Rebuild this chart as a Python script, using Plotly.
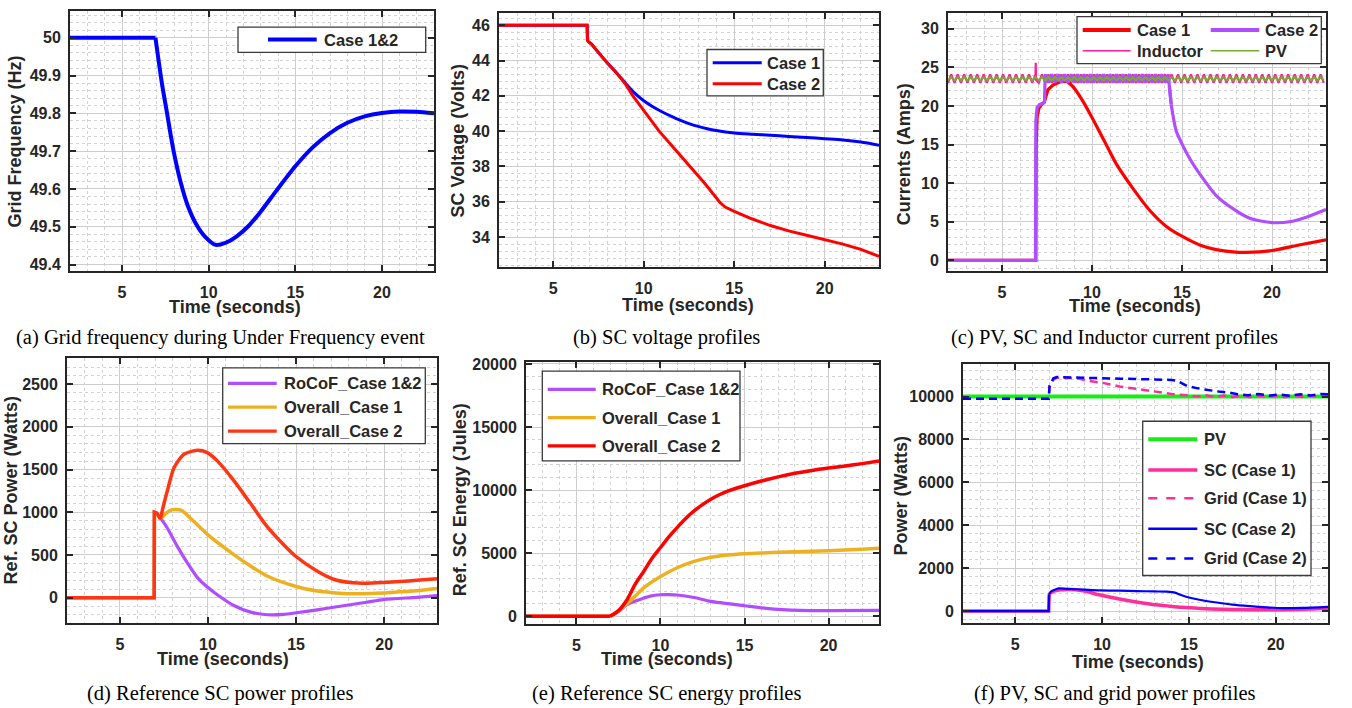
import plotly.graph_objects as go

W, H = 1352, 708

# ---------------- data ----------------
x_ticks = [5, 10, 15, 20]

# (a) grid frequency
freq_t = [2.0, 6.93, 7.3, 7.6, 7.8, 8.0, 8.4, 8.8, 9.3, 9.8, 10.4, 11.0, 11.6, 12.3, 13.0,
          13.9, 15.0, 16.0, 17.0, 18.0, 19.0, 20.0, 21.0, 22.0, 23.0]
freq_hz = [50.0, 50.0, 49.88, 49.80, 49.745, 49.695, 49.615, 49.555, 49.505, 49.473, 49.452,
           49.458, 49.474, 49.502, 49.54, 49.595, 49.66, 49.71, 49.748, 49.775, 49.792,
           49.801, 49.805, 49.804, 49.80]

# (b) SC voltage
volt_t1 = [2.0, 6.87, 6.89, 6.95, 7.1, 7.5, 8.0, 8.5, 9.0, 9.5, 10.0, 10.5, 11.0, 11.5, 12.0,
           12.5, 13.0, 13.5, 14.0, 15.0, 16.0, 17.0, 18.0, 19.0, 20.0, 21.0, 22.0, 23.0]
volt_case1 = [46.0, 46.0, 45.15, 45.05, 44.95, 44.45, 43.85, 43.3, 42.7, 42.15, 41.72, 41.38,
              41.1, 40.85, 40.62, 40.43, 40.27, 40.14, 40.04, 39.9, 39.83, 39.77, 39.7,
              39.64, 39.57, 39.5, 39.38, 39.2]
volt_t2 = [2.0, 6.87, 6.89, 6.95, 7.1, 7.5, 8.0, 8.5, 9.0, 9.4, 10.0, 10.85, 11.7, 12.56,
           13.4, 14.2, 14.5, 15.0, 15.5, 16.0, 17.0, 18.0, 19.0, 20.0, 21.0, 22.0, 23.0]
volt_case2 = [46.0, 46.0, 45.15, 45.05, 44.95, 44.45, 43.85, 43.3, 42.65, 42.0, 41.2, 40.0,
              39.0, 38.0, 37.0, 35.97, 35.7, 35.45, 35.22, 35.02, 34.65, 34.35, 34.1,
              33.87, 33.6, 33.3, 32.9]

# (c) currents
ripple_t = [2.00, 2.18, 2.36, 2.54, 2.72, 2.90, 3.08, 3.26, 3.44, 3.62, 3.80, 3.98, 4.16,
            4.34, 4.52, 4.70, 4.88, 5.06, 5.24, 5.42, 5.60, 5.78, 5.96, 6.14, 6.32, 6.50,
            6.68, 6.86, 7.04, 7.22, 7.40, 7.58, 7.76, 7.94, 8.12, 8.30, 8.48, 8.66, 8.84,
            9.02, 9.20, 9.38, 9.56, 9.74, 9.92, 10.10, 10.28, 10.46, 10.64, 10.82, 11.00,
            11.18, 11.36, 11.54, 11.72, 11.90, 12.08, 12.26, 12.44, 12.62, 12.80, 12.98,
            13.16, 13.34, 13.52, 13.70, 13.88, 14.06, 14.24, 14.42, 14.60, 14.78, 14.96,
            15.14, 15.32, 15.50, 15.68, 15.86, 16.04, 16.22, 16.40, 16.58, 16.76, 16.94,
            17.12, 17.30, 17.48, 17.66, 17.84, 18.02, 18.20, 18.38, 18.56, 18.74, 18.92,
            19.10, 19.28, 19.46, 19.64, 19.82, 20.00, 20.18, 20.36, 20.54, 20.72, 20.90,
            21.08, 21.26, 21.44, 21.62, 21.80, 21.98, 22.16, 22.34, 22.52, 22.70, 22.88,
            23.06]
inductor_ripple = [23.0, 24.1, 23.0, 24.1, 23.0, 24.1, 23.0, 24.1, 23.0, 24.1, 23.0, 24.1,
                   23.0, 24.1, 23.0, 24.1, 23.0, 24.1, 23.0, 24.1, 23.0, 24.1, 23.0, 24.1,
                   23.0, 24.1, 23.0, 24.1, 23.0, 24.1, 23.0, 24.1, 23.0, 24.1, 23.0, 24.1,
                   23.0, 24.1, 23.0, 24.1, 23.0, 24.1, 23.0, 24.1, 23.0, 24.1, 23.0, 24.1,
                   23.0, 24.1, 23.0, 24.1, 23.0, 24.1, 23.0, 24.1, 23.0, 24.1, 23.0, 24.1,
                   23.0, 24.1, 23.0, 24.1, 23.0, 24.1, 23.0, 24.1, 23.0, 24.1, 23.0, 24.1,
                   23.0, 24.1, 23.0, 24.1, 23.0, 24.1, 23.0, 24.1, 23.0, 24.1, 23.0, 24.1,
                   23.0, 24.1, 23.0, 24.1, 23.0, 24.1, 23.0, 24.1, 23.0, 24.1, 23.0, 24.1,
                   23.0, 24.1, 23.0, 24.1, 23.0, 24.1, 23.0, 24.1, 23.0, 24.1, 23.0, 24.1,
                   23.0, 24.1, 23.0, 24.1, 23.0, 24.1, 23.0, 24.1, 23.0]
inductor_spike_t = [6.875, 6.89]
inductor_spike_i = [25.6, 23.4]
pv_ripple = [23.3, 23.75, 23.3, 23.75, 23.3, 23.75, 23.3, 23.75, 23.3, 23.75, 23.3, 23.75,
             23.3, 23.75, 23.3, 23.75, 23.3, 23.75, 23.3, 23.75, 23.3, 23.75, 23.3, 23.75,
             23.3, 23.75, 23.3, 23.75, 23.3, 23.75, 23.3, 23.75, 23.3, 23.75, 23.3, 23.75,
             23.3, 23.75, 23.3, 23.75, 23.3, 23.75, 23.3, 23.75, 23.3, 23.75, 23.3, 23.75,
             23.3, 23.75, 23.3, 23.75, 23.3, 23.75, 23.3, 23.75, 23.3, 23.75, 23.3, 23.75,
             23.3, 23.75, 23.3, 23.75, 23.3, 23.75, 23.3, 23.75, 23.3, 23.75, 23.3, 23.75,
             23.3, 23.75, 23.3, 23.75, 23.3, 23.75, 23.3, 23.75, 23.3, 23.75, 23.3, 23.75,
             23.3, 23.75, 23.3, 23.75, 23.3, 23.75, 23.3, 23.75, 23.3, 23.75, 23.3, 23.75,
             23.3, 23.75, 23.3, 23.75, 23.3, 23.75, 23.3, 23.75, 23.3, 23.75, 23.3, 23.75,
             23.3, 23.75, 23.3, 23.75, 23.3, 23.75, 23.3, 23.75, 23.3]
case2_pre_t = [2.0, 6.86, 6.88, 6.95, 7.1, 7.25, 7.36]
case2_pre_i = [0.0, 0.0, 18.0, 19.8, 20.2, 20.3, 20.5]
case2_ripple = [24.1, 23.0, 24.1, 23.0, 24.1, 23.0, 24.1, 23.0, 24.1, 23.0, 24.1, 23.0,
                24.1, 23.0, 24.1, 23.0, 24.1, 23.0, 24.1, 23.0, 24.1, 23.0, 24.1, 23.0,
                24.1, 23.0, 24.1, 23.0, 24.1, 23.0, 24.1, 23.0, 24.1, 23.0, 24.1, 23.0,
                24.1, 23.0, 24.1]
case2_post_t = [14.3, 14.4, 14.68, 15.06, 15.5, 15.98, 16.9, 17.83, 18.76, 20.0, 20.98, 21.9, 23.0]
case2_post_i = [22.5, 20.2, 16.75, 14.8, 12.9, 11.2, 8.4, 6.7, 5.45, 4.9, 5.0, 5.6, 6.6]
case1_cur_t = [2.0, 6.88, 6.9, 6.95, 7.05, 7.2, 7.35, 7.55, 7.83, 8.2, 8.57, 8.94, 9.5, 10.0,
               10.7, 11.35, 12.28, 13.2, 14.13, 15.02, 15.98, 16.9, 17.83, 18.57, 20.0, 21.5, 23.0]
case1_cur_i = [0.0, 0.0, 15.0, 18.5, 19.7, 20.2, 20.5, 22.1, 22.7, 23.1, 23.25, 22.5, 20.6,
               18.5, 15.4, 12.5, 9.3, 6.5, 4.4, 3.1, 2.0, 1.4, 1.1, 1.03, 1.28, 2.0, 2.65]

# (d) reference SC power
pow_rocof_t = [2.0, 6.95, 6.96, 7.1, 7.32, 7.7, 8.26, 8.83, 9.4, 10.0, 10.53, 11.47, 12.42,
               13.36, 14.3, 15.0, 16.19, 17.13, 19.0, 19.96, 21.85, 23.0]
pow_rocof = [0, 0, 1000, 990, 928, 813, 601, 408, 235, 119, 35, -92, -169, -200, -196, -177,
             -143, -112, -54, -23, 4, 23]
pow_c1_t = [2.0, 6.95, 6.96, 7.1, 7.32, 7.6, 7.85, 8.1, 8.5, 9.02, 10.0, 11.47, 12.42, 13.36,
            15.0, 16.19, 17.13, 18.08, 19.96, 20.9, 21.85, 23.0]
pow_c1 = [0, 0, 1000, 985, 925, 985, 1020, 1032, 1022, 928, 736, 505, 370, 254, 131, 77, 58,
          46, 54, 69, 81, 108]
pow_c2_t = [2.0, 6.95, 6.96, 7.1, 7.3, 7.5, 7.7, 8.08, 8.64, 9.4, 9.96, 10.53, 11.47, 12.42,
            13.36, 14.3, 14.98, 16.19, 17.13, 18.08, 19.02, 19.96, 20.9, 21.85, 23.0]
pow_c2 = [0, 0, 1000, 990, 920, 1100, 1256, 1525, 1680, 1726, 1699, 1602, 1371, 1102, 832,
          620, 485, 312, 216, 177, 169, 177, 189, 204, 223]

# (e) reference SC energy
en_rocof_t = [2.0, 7.0, 7.5, 8.0, 8.6, 9.4, 10.0, 10.5, 11.0, 12.0, 13.0, 15.0, 16.3, 18.3, 20.0, 23.0]
en_rocof = [0, 0, 380, 920, 1250, 1600, 1710, 1720, 1690, 1490, 1180, 840, 630, 470, 445, 470]
en_c1_t = [2.0, 7.0, 7.5, 8.0, 8.5, 9.0, 10.0, 11.0, 12.0, 13.0, 14.0, 15.0, 16.0, 18.0, 20.0, 22.0, 23.0]
en_c1 = [0, 0, 400, 1000, 1600, 2250, 3150, 3850, 4350, 4680, 4860, 4960, 5020, 5110, 5200, 5320, 5400]
en_c2_t = [2.0, 7.0, 7.5, 8.0, 8.5, 9.0, 9.5, 10.0, 10.5, 11.0, 11.5, 12.0, 12.5, 13.0, 13.5,
           14.0, 14.5, 15.0, 16.0, 17.0, 18.0, 19.0, 20.0, 21.0, 22.0, 23.0]
en_c2 = [0, 0, 450, 1300, 2550, 3550, 4600, 5450, 6300, 7050, 7750, 8350, 8850, 9280, 9630,
         9920, 10150, 10350, 10720, 11050, 11330, 11560, 11750, 11920, 12100, 12300]

# (f) PV, SC and grid power
pv_t = [2.0, 23.0]
pv_w = [10000, 10000]
sc1_t = [2.0, 6.93, 6.96, 7.1, 7.3, 7.6, 8.0, 8.5, 9.0, 9.9, 11.0, 11.8, 12.8, 13.73, 14.6,
         15.65, 17.0, 18.0, 19.5, 21.0, 22.0, 23.0]
sc1_w = [0, 0, 780, 880, 940, 990, 1010, 1000, 930, 750, 560, 446, 320, 244, 175, 124, 85,
         70, 60, 70, 95, 135]
grid1_t = [2.0, 6.93, 6.98, 7.2, 7.4, 8.5, 9.3, 10.0, 11.0, 12.0, 13.0, 14.0, 15.0, 15.5,
           16.0, 16.5, 17.0, 17.5, 18.0, 18.5, 19.0, 19.5, 20.0, 20.5, 21.0, 21.5, 22.0, 22.5, 23.0]
grid1_w = [9890, 9890, 10450, 10780, 10870, 10860, 10720, 10640, 10470, 10350, 10230, 10120,
           10050, 10000, 10060, 9980, 10050, 9970, 10040, 9970, 10030, 9980, 10040, 9970,
           10030, 9980, 10050, 9990, 10040]
sc2_t = [2.0, 6.93, 6.95, 7.05, 7.2, 7.5, 8.0, 9.0, 9.9, 11.0, 12.0, 13.0, 13.73, 14.2,
         14.5, 14.88, 15.6, 16.6, 17.5, 18.5, 19.5, 20.4, 21.5, 23.0]
sc2_w = [0, 0, 780, 900, 966, 1058, 1040, 1000, 966, 950, 935, 915, 905, 860, 760, 658,
         530, 400, 300, 230, 175, 140, 150, 198]
grid2_t = [2.0, 6.93, 6.98, 7.2, 7.4, 8.0, 9.0, 10.0, 11.0, 12.0, 13.16, 14.0, 14.3, 14.6,
           14.9, 15.5, 16.1, 16.7, 17.3, 17.8, 18.4, 19.0, 19.6, 20.2, 20.8, 21.4, 22.0, 22.6, 23.0]
grid2_w = [9900, 9900, 10500, 10850, 10906, 10890, 10860, 10830, 10830, 10815, 10800, 10770,
           10740, 10620, 10490, 10380, 10294, 10230, 10184, 10110, 10060, 10120, 10040, 10100,
           10040, 10110, 10050, 10120, 10110]

# ---------------- styling ----------------
C_BLUE = '#0000FF'
C_RED = '#FF0000'
C_PURPLE = '#B04DFF'
C_YELLOW = '#EDB120'
C_ORANGE = '#FF3614'
C_PINK_IND = '#FF1FA0'
C_PV_C = '#77AC30'
C_PV_F = '#14EE14'
C_SC1 = '#FF2E9A'
AX_COL = '#262626'

boxes = {  # left, top, right, bottom in pixels
    'a': (70, 5, 434, 268),
    'b': (499, 7, 879, 264),
    'c': (948, 7, 1326, 268),
    'd': (67, 356, 437, 624),
    'e': (526, 360, 879, 625),
    'f': (963, 362, 1328, 624),
}
yranges = {
    'a': ([49.383, 50.071], 0.1, 0.02, None),
    'b': ([32.3, 46.7], 2, 0.4, 'd'),
    'c': ([-1.37, 32.05], 5, 1, 'd'),
    'd': ([-296, 2807], 500, 100, 'd'),
    'e': ([-603, 20157], 5000, 1000, 'd'),
    'f': ([-552, 11519], 2000, 400, 'd'),
}
order = ['a', 'b', 'c', 'd', 'e', 'f']


def pxx(x):
    return x / W


def pxy(y):
    return 1 - y / H


fig = go.Figure()
layout = dict(width=W, height=H, margin=dict(l=0, r=0, t=0, b=0),
              paper_bgcolor='white', plot_bgcolor='white', showlegend=False)

tickfont = dict(family='Liberation Sans', size=16, color=AX_COL, weight='bold')
for i, k in enumerate(order):
    n = '' if i == 0 else str(i + 1)
    L, T, R, B = boxes[k]
    rng, dt, mdt, fmt = yranges[k]
    common = dict(showline=True, linecolor=AX_COL, linewidth=2, mirror='ticks',
                  ticks='inside', ticklen=6, tickwidth=1.5, tickcolor=AX_COL,
                  showgrid=True, gridcolor='#cdcdcd', gridwidth=1, zeroline=False,
                  tickfont=tickfont, exponentformat='none')
    layout['xaxis' + n] = dict(domain=[pxx(L), pxx(R)], range=[2, 23], tickmode='array',
                               tickvals=x_ticks, anchor='y' + n, ticklabelstandoff=6,
                               tickformat='d',
                               minor=dict(dtick=1, tick0=0, showgrid=True, gridcolor='#d3d3d3',
                                          griddash='dot', gridwidth=1), **common)
    ydict = dict(domain=[pxy(B), pxy(T)], range=rng, dtick=dt, tick0=0,
                 anchor='x' + n, ticklabelstandoff=4,
                 minor=dict(dtick=mdt, tick0=0, showgrid=True, gridcolor='#d3d3d3',
                            griddash='dot', gridwidth=1), **common)
    if fmt:
        ydict['tickformat'] = fmt
    layout['yaxis' + n] = ydict


def add(k, x, y, color, width, lin=None, dash='solid', smoothing=0.7):
    """Draw x[:lin] with straight segments and x[lin-1:] as a smooth curve."""
    i = order.index(k)
    n = '' if i == 0 else str(i + 1)
    if lin is None:
        parts = [(x, y, 'linear')]
    else:
        parts = [(x[:lin], y[:lin], 'linear'), (x[lin - 1:], y[lin - 1:], 'spline')]
    for xs, ys, shp in parts:
        line = dict(color=color, width=width, dash=dash, shape=shp)
        if shp == 'spline':
            line['smoothing'] = smoothing
        fig.add_trace(go.Scatter(x=xs, y=ys, mode='lines', line=line, xaxis='x' + n,
                                 yaxis='y' + n, hoverinfo='skip'))


# (a)
add('a', freq_t, freq_hz, C_BLUE, 4, lin=2)
# (b)
add('b', volt_t1, volt_case1, C_BLUE, 3, lin=4)
add('b', volt_t2, volt_case2, C_RED, 3)
# (c)
ind_t = ripple_t[:28] + inductor_spike_t + ripple_t[28:]
ind_i = inductor_ripple[:28] + inductor_spike_i + inductor_ripple[28:]
add('c', ind_t, ind_i, C_PINK_IND, 2.2)
add('c', case1_cur_t, case1_cur_i, C_RED, 3.2, lin=11)
add('c', case2_pre_t + ripple_t[30:69] + case2_post_t[:2],
    case2_pre_i + case2_ripple + case2_post_i[:2], C_PURPLE, 3.2)
add('c', case2_post_t, case2_post_i, C_PURPLE, 3.2, lin=2)
add('c', ripple_t, pv_ripple, C_PV_C, 2.0)
# (d)
add('d', pow_rocof_t, pow_rocof, C_PURPLE, 3.2, lin=5)
add('d', pow_c1_t, pow_c1, C_YELLOW, 3.5, lin=5)
add('d', pow_c2_t, pow_c2, C_ORANGE, 3.5, lin=5)
# (e)
add('e', en_rocof_t, en_rocof, C_PURPLE, 3.2, lin=2)
add('e', en_c1_t, en_c1, C_YELLOW, 3.5, lin=2)
add('e', en_c2_t, en_c2, C_RED, 3.5, lin=2)
# (f)
add('f', pv_t, pv_w, C_PV_F, 4)
add('f', sc1_t, sc1_w, C_SC1, 3.5, lin=3)
add('f', grid1_t, grid1_w, C_SC1, 2.5, dash='8px,5px')
add('f', sc2_t, sc2_w, C_BLUE, 2.2, lin=3)
add('f', grid2_t, grid2_w, C_BLUE, 2.5, dash='8px,5px')

shapes = []
annotations = []


def text(x, y, s, size=16.5, anchor='left', angle=0, family='Liberation Sans', bold=True,
         color=AX_COL):
    annotations.append(dict(x=pxx(x), y=pxy(y), xref='paper', yref='paper', text=s,
                            showarrow=False, xanchor=anchor, yanchor='middle', textangle=angle,
                            font=dict(family=family, size=size, color=color,
                                      weight='bold' if bold else 'normal')))


def legend_box(x0, y0, x1, y1):
    shapes.append(dict(type='rect', xref='paper', yref='paper', x0=pxx(x0), x1=pxx(x1),
                       y0=pxy(y1), y1=pxy(y0), fillcolor='white',
                       line=dict(color='#3a3a3a', width=1.3)))


def legend_line(x0, x1, y, color, width, dash='solid'):
    shapes.append(dict(type='line', xref='paper', yref='paper', x0=pxx(x0), x1=pxx(x1),
                       y0=pxy(y), y1=pxy(y), line=dict(color=color, width=width, dash=dash)))


# legends
legend_box(238, 21.3, 425.7, 47)
legend_line(268, 316.7, 34, C_BLUE, 4)
text(321.5, 34, 'Case 1&2')

legend_box(707, 44, 823.3, 91)
legend_line(712.7, 761.7, 57.3, C_BLUE, 3)
text(765, 57.3, 'Case 1')
legend_line(712.7, 761.7, 78.7, C_RED, 3)
text(765, 78.7, 'Case 2')

legend_box(1077, 10.7, 1321.3, 58.3)
legend_line(1082.7, 1130.7, 24.3, C_RED, 4)
text(1135, 24.3, 'Case 1')
legend_line(1210.7, 1259.3, 24.3, C_PURPLE, 4)
text(1263.3, 24.3, 'Case 2')
legend_line(1082.7, 1130.7, 45.3, C_PINK_IND, 1.5)
text(1135, 45.3, 'Inductor')
legend_line(1210.7, 1259.3, 45.3, C_PV_C, 1.5)
text(1263.3, 45.3, 'PV')

legend_box(222.7, 366, 425.3, 442.7)
for yy, c, s in [(381.7, C_PURPLE, 'RoCoF_Case 1&2'), (405.7, C_YELLOW, 'Overall_Case 1'),
                 (430, C_ORANGE, 'Overall_Case 2')]:
    legend_line(228, 276.7, yy, c, 3.2)
    text(282, yy, s)

legend_box(542.3, 369.3, 740, 460)
for yy, c, s in [(387.7, C_PURPLE, 'RoCoF_Case 1&2'), (416.3, C_YELLOW, 'Overall_Case 1'),
                 (445, C_RED, 'Overall_Case 2')]:
    legend_line(547.7, 595.7, yy, c, 3.2)
    text(600, yy, s)

legend_box(1142.7, 420, 1311, 576)
for yy, c, w, d, s in [(438.3, C_PV_F, 4, 'solid', 'PV'), (469.3, C_SC1, 3.5, 'solid', 'SC (Case 1)'),
                       (498, C_SC1, 2.5, 'dash', 'Grid (Case 1)'), (528.7, C_BLUE, 2.5, 'solid', 'SC (Case 2)'),
                       (558.7, C_BLUE, 2.5, 'dash', 'Grid (Case 2)')]:
    legend_line(1148.3, 1197.3, yy, c, w, d)
    text(1201.7, yy, s)

# axis titles
x_titles = [(235, 304), (687.5, 302), (1134.7, 303), (222.5, 660.7), (666.7, 660), (1138, 663.3)]
for (x, y) in x_titles:
    text(x, y, 'Time (seconds)', size=18, anchor='center')
y_titles = [(15, 137, 'Grid Frequency (Hz)'), (458, 137, 'SC Voltage (Volts)'),
            (904, 150, 'Currents (Amps)'), (11, 490, 'Ref. SC Power (Watts)'),
            (460, 500, 'Ref. SC Energy (Jules)'), (901, 496, 'Power (Watts)')]
for (x, y, s) in y_titles:
    text(x, y, s, size=18, anchor='center', angle=-90)

# captions
captions = [(220, 335, '(a) Grid frequency during Under Frequency event'),
            (666.7, 335, '(b) SC voltage profiles'),
            (1114, 335, '(c) PV, SC and Inductor current profiles'),
            (220, 695, '(d) Reference SC power profiles'),
            (666.3, 695, '(e) Reference SC energy profiles'),
            (1114, 695, '(f) PV, SC and grid power profiles')]
for (x, y, s) in captions:
    text(x, y, s, size=20.5, anchor='center', family='Liberation Serif', bold=False, color='black')

layout['shapes'] = shapes
layout['annotations'] = annotations
fig.update_layout(**layout)
fig.write_html('out.html')
